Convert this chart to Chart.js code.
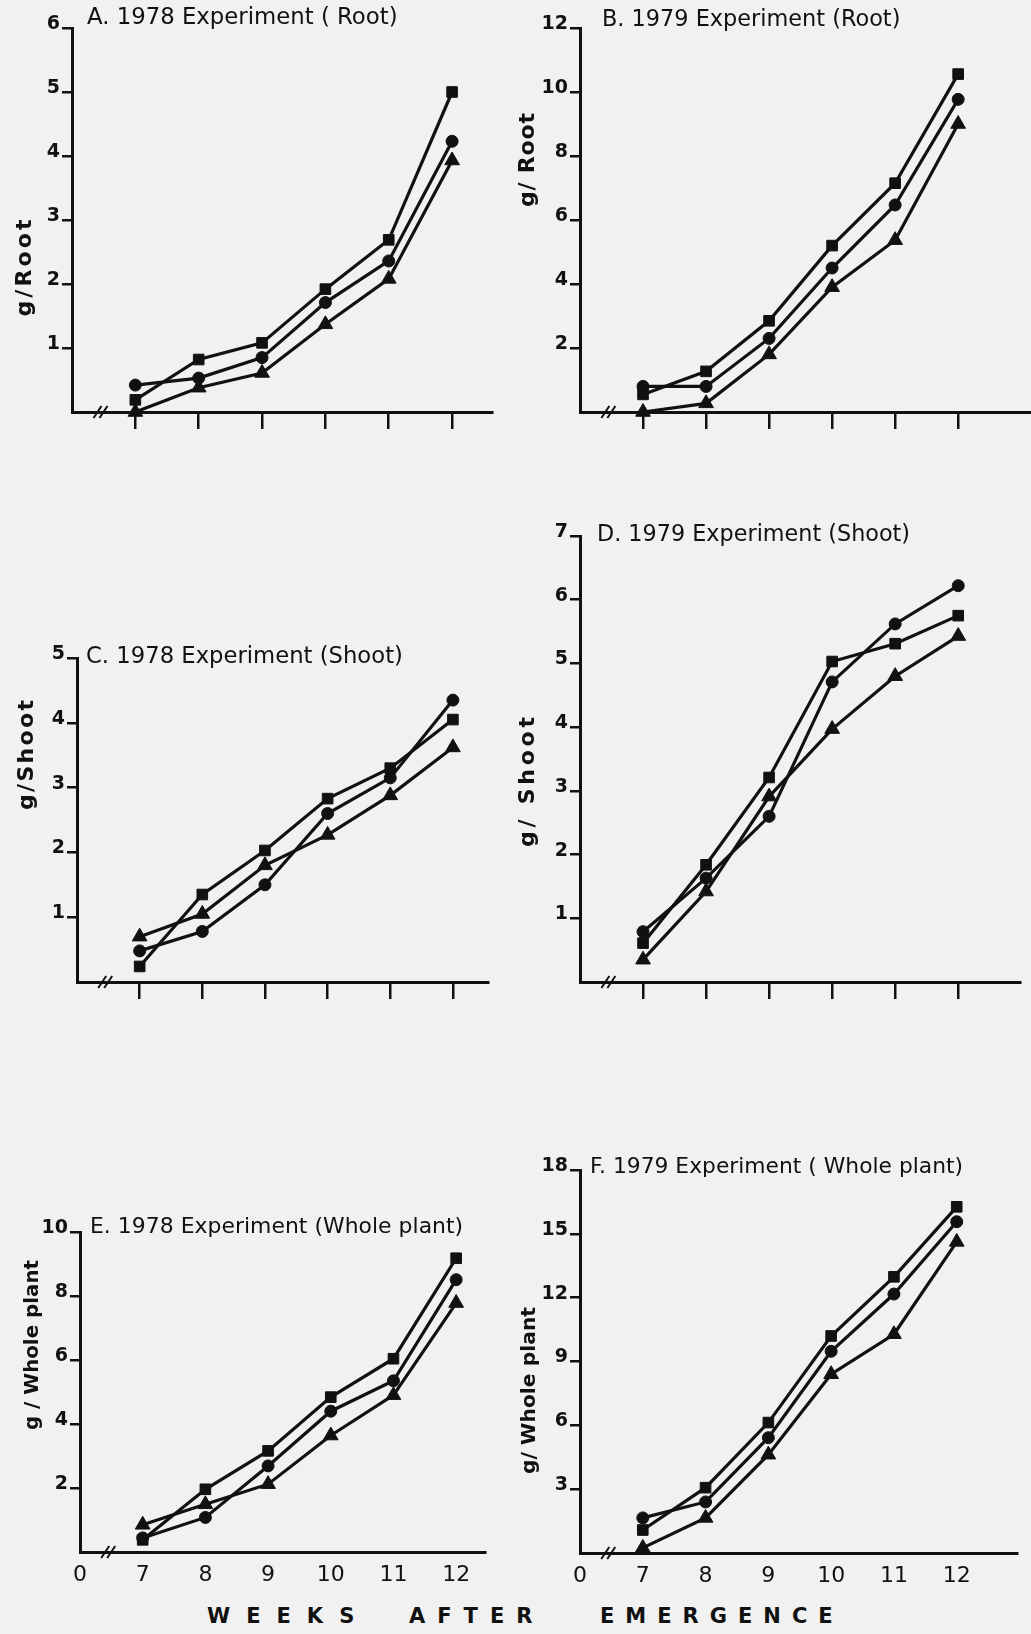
<!DOCTYPE html>
<html>
<head>
<meta charset="utf-8">
<script src="https://cdn.jsdelivr.net/npm/chart.js@4.4.0/dist/chart.umd.min.js"></script>
<style>
body { margin:0; background:#f1f1f1; width:1031px; height:1634px; overflow:hidden; position:relative; }
canvas { position:absolute; }
.xlab { position:absolute; top:1604px; font:bold 21px 'DejaVu Sans', sans-serif; color:#111; white-space:nowrap; }
</style>
</head>
<body>
<canvas id="grafA"></canvas>
<canvas id="grafB"></canvas>
<canvas id="grafC"></canvas>
<canvas id="grafD"></canvas>
<canvas id="grafE"></canvas>
<canvas id="grafF"></canvas>
<div class="xlab" style="left:207px;letter-spacing:16px">WEEKS</div>
<div class="xlab" style="left:409px;letter-spacing:12px">AFTER</div>
<div class="xlab" style="left:600px;letter-spacing:11px">EMERGENCE</div>
<script>
const weeks = [7, 8, 9, 10, 11, 12];
const xTicks = [6, 7, 8, 9, 10, 11, 12];
const xTickLabels = ['0', '7', '8', '9', '10', '11', '12'];

// A. 1978 root
const root78Square   = [0.19, 0.82, 1.08, 1.92, 2.69, 5.00];
const root78Circle   = [0.42, 0.53, 0.85, 1.71, 2.36, 4.23];
const root78Triangle = [0.00, 0.38, 0.61, 1.37, 2.08, 3.93];

// B. 1979 root
const root79Square   = [0.55, 1.27, 2.85, 5.20, 7.15, 10.56];
const root79Circle   = [0.80, 0.80, 2.30, 4.50, 6.47, 9.77];
const root79Triangle = [0.00, 0.27, 1.80, 3.90, 5.37, 9.00];

// C. 1978 shoot
const shoot78Square   = [0.24, 1.35, 2.03, 2.83, 3.30, 4.05];
const shoot78Circle   = [0.48, 0.78, 1.50, 2.60, 3.15, 4.35];
const shoot78Triangle = [0.70, 1.05, 1.80, 2.27, 2.88, 3.62];

// D. 1979 shoot
const shoot79Square   = [0.61, 1.84, 3.21, 5.03, 5.31, 5.75];
const shoot79Circle   = [0.79, 1.63, 2.60, 4.71, 5.62, 6.22];
const shoot79Triangle = [0.35, 1.42, 2.91, 3.97, 4.80, 5.43];

// E. 1978 whole plant
const whole78Square   = [0.38, 1.96, 3.16, 4.84, 6.04, 9.18];
const whole78Circle   = [0.44, 1.08, 2.69, 4.40, 5.35, 8.51];
const whole78Triangle = [0.85, 1.49, 2.12, 3.64, 4.90, 7.78];

// F. 1979 whole plant
const whole79Square   = [1.08, 3.07, 6.13, 10.20, 12.98, 16.27];
const whole79Circle   = [1.65, 2.40, 5.42, 9.48, 12.17, 15.57];
const whole79Triangle = [0.24, 1.65, 4.62, 8.40, 10.28, 14.62];

const Y_W = 64;
const PAD_T = 24;
const PAD_R = 16;
const INK = '#111';

// size the text (up to maxSize) so it takes about the given width
function fitText(ctx, text, x, y, target, weight, maxSize) {
  let size = maxSize;
  ctx.font = weight + ' ' + size + 'px "DejaVu Sans"';
  let w = ctx.measureText(text).width;
  if (w > target) {
    size = size * target / w;
    ctx.font = weight + ' ' + size.toFixed(1) + 'px "DejaVu Sans"';
    w = ctx.measureText(text).width;
  }
  const sp = Math.max(0, (target - w) / (text.length - 1));
  ctx.letterSpacing = sp.toFixed(2) + 'px';
  ctx.fillText(text, x, y);
  ctx.letterSpacing = '0px';
}

// titles, y title and the // break on the x axis
const panelText = {
  id: 'panelText',
  afterDraw(chart, args, o) {
    const {ctx, chartArea} = chart;
    ctx.save();
    ctx.fillStyle = INK;
    ctx.textBaseline = 'middle';
    fitText(ctx, o.title, chartArea.left + o.dx, chartArea.top + o.dy, o.titleW, 'normal', 23);
    ctx.translate(chartArea.left - o.yx, (chartArea.top + chartArea.bottom) / 2 + o.yy);
    ctx.rotate(-Math.PI / 2);
    fitText(ctx, o.yTitle, -o.yTitleW / 2, 0, o.yTitleW, 'bold', 22);
    ctx.restore();

    const bx = chart.scales.x.getPixelForValue(6.45);
    const by = chartArea.bottom;
    ctx.save();
    ctx.strokeStyle = INK;
    ctx.lineWidth = 2;
    for (const k of [-3, 3]) {
      ctx.beginPath();
      ctx.moveTo(bx + k - 4, by + 6);
      ctx.lineTo(bx + k + 4, by - 6);
      ctx.stroke();
    }
    ctx.restore();
  }
};

function serie(values, shape, radius) {
  return {
    data: weeks.map((w, i) => ({x: w, y: values[i]})),
    borderColor: INK,
    backgroundColor: INK,
    borderWidth: 3.2,
    pointStyle: shape,
    pointRadius: radius,
    pointBorderWidth: 1,
    tension: 0,
    clip: false
  };
}

function makePanel(id, box, cfg, sq, ci, tr) {
  const canvas = document.getElementById(id);
  canvas.width = Y_W + (box.r - box.l) + PAD_R;
  canvas.height = PAD_T + (box.b - box.t) + cfg.xH;
  canvas.style.left = (box.l - Y_W) + 'px';
  canvas.style.top = (box.t - PAD_T) + 'px';

  new Chart(canvas, {
    type: 'line',
    data: {
      datasets: [serie(sq, 'rect', 7.5), serie(ci, 'circle', 6), serie(tr, 'triangle', 8.5)]
    },
    options: {
      responsive: false,
      animation: false,
      layout: { padding: { top: PAD_T, right: PAD_R, left: 0, bottom: 0 } },
      plugins: {
        legend: { display: false },
        tooltip: { enabled: false },
        panelText: cfg.text
      },
      scales: {
        x: {
          type: 'linear',
          min: 6,
          max: cfg.xMax,
          afterBuildTicks: s => { s.ticks = xTicks.map(v => ({value: v})); },
          afterFit: s => { s.height = cfg.xH; },
          border: { color: INK, width: 3 },
          grid: {
            drawOnChartArea: false,
            tickLength: cfg.showX ? 5 : 17,
            lineWidth: 2.5,
            tickColor: c => (c.tick && c.tick.value > 6 && !cfg.showX) ? INK : 'rgba(0,0,0,0)'
          },
          ticks: {
            display: cfg.showX,
            autoSkip: false,
            maxRotation: 0,
            padding: 5,
            color: INK,
            font: { family: 'DejaVu Sans', size: 22 },
            callback: (v, i) => xTickLabels[i]
          }
        },
        y: {
          min: 0,
          max: cfg.yMax,
          afterFit: s => { s.width = Y_W; },
          border: { color: INK, width: 3 },
          grid: {
            drawOnChartArea: false,
            tickLength: 10,
            lineWidth: 2.5,
            tickColor: c => (c.tick && c.tick.value > 0) ? INK : 'rgba(0,0,0,0)'
          },
          ticks: {
            stepSize: cfg.yStep,
            padding: 2,
            labelOffset: -4,
            color: INK,
            font: { family: 'DejaVu Sans', size: 19, weight: 'bold' },
            callback: v => v === 0 ? '' : v
          }
        }
      }
    },
    plugins: [panelText]
  });
}

makePanel('grafA', {l: 72, t: 28, r: 492, b: 412},
  {xMax: 12.63, yMax: 6, yStep: 1, xH: 20, showX: false,
   text: {title: 'A. 1978 Experiment ( Root)', titleW: 310, dx: 15, dy: -10,
          yTitle: 'g/Root', yTitleW: 97, yx: 47, yy: 48}},
  root78Square, root78Circle, root78Triangle);

makePanel('grafB', {l: 580, t: 28, r: 1030, b: 412},
  {xMax: 13.14, yMax: 12, yStep: 2, xH: 20, showX: false,
   text: {title: 'B. 1979 Experiment (Root)', titleW: 298, dx: 22, dy: -8,
          yTitle: 'g/ Root', yTitleW: 94, yx: 52, yy: -60}},
  root79Square, root79Circle, root79Triangle);

makePanel('grafC', {l: 77, t: 658, r: 488, b: 982},
  {xMax: 12.56, yMax: 5, yStep: 1, xH: 20, showX: false,
   text: {title: 'C. 1978 Experiment (Shoot)', titleW: 317, dx: 9, dy: -1,
          yTitle: 'g/Shoot', yTitleW: 110, yx: 50, yy: -65}},
  shoot78Square, shoot78Circle, shoot78Triangle);

makePanel('grafD', {l: 580, t: 536, r: 1020, b: 982},
  {xMax: 12.98, yMax: 7, yStep: 1, xH: 20, showX: false,
   text: {title: 'D. 1979 Experiment (Shoot)', titleW: 313, dx: 17, dy: -1,
          yTitle: 'g/ Shoot', yTitleW: 130, yx: 52, yy: 23}},
  shoot79Square, shoot79Circle, shoot79Triangle);

makePanel('grafE', {l: 80, t: 1232, r: 485, b: 1552},
  {xMax: 12.46, yMax: 10, yStep: 2, xH: 44, showX: true,
   text: {title: 'E. 1978 Experiment (Whole plant)', titleW: 373, dx: 10, dy: -5,
          yTitle: 'g / Whole plant', yTitleW: 170, yx: 47, yy: -47}},
  whole78Square, whole78Circle, whole78Triangle);

makePanel('grafF', {l: 580, t: 1170, r: 1017, b: 1553},
  {xMax: 12.96, yMax: 18, yStep: 3, xH: 44, showX: true,
   text: {title: 'F. 1979 Experiment ( Whole plant)', titleW: 373, dx: 10, dy: -3,
          yTitle: 'g/ Whole plant', yTitleW: 167, yx: 50, yy: 29}},
  whole79Square, whole79Circle, whole79Triangle);
</script>
</body>
</html>
